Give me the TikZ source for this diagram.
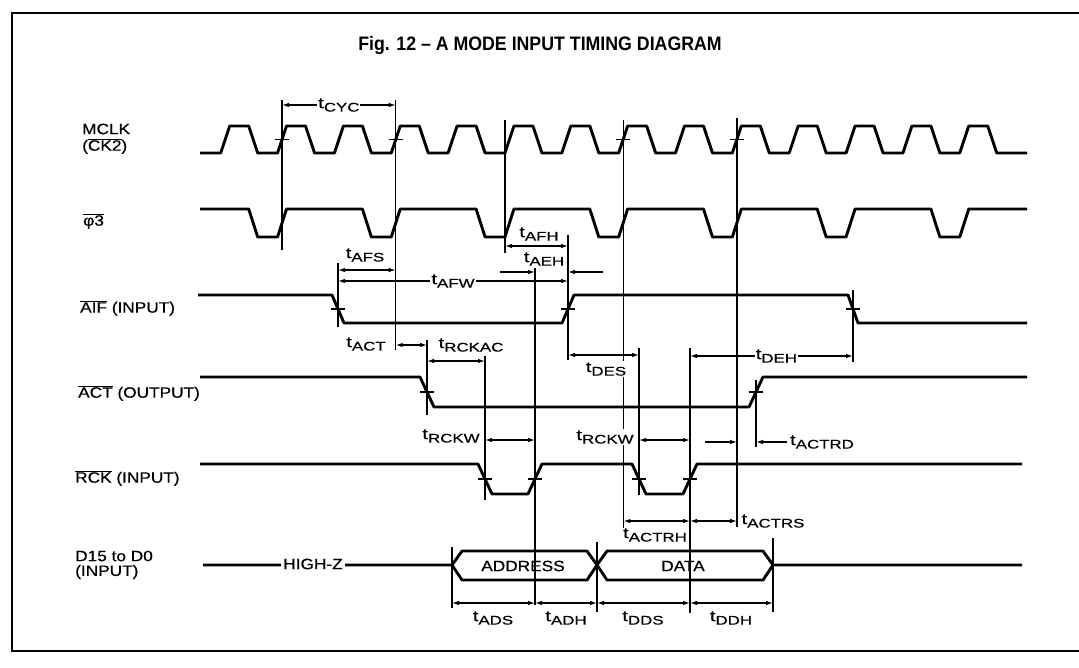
\documentclass[tikz,border=0pt]{standalone}
\usepackage{fontspec}
\setmainfont{Liberation Sans}
\newfontfamily\sigfont[FakeStretch=1.15,FakeBold=0.6]{Liberation Sans}
\newfontfamily\timefont[FakeStretch=1.35,FakeBold=0.6]{Liberation Sans}
\newfontfamily\titlefont[FakeStretch=0.91]{Liberation Sans Bold}
\usetikzlibrary{calc}
\usetikzlibrary{arrows.meta}
\tikzstyle{wave} = [line width=2.9pt, line join=round]
\tikzstyle{refline} = [line width=1.3pt]
\tikzstyle{dim} = [line width=1.2pt, {Latex[length=7pt,width=4.5pt]}-{Latex[length=7pt,width=4.5pt]}]
\tikzstyle{dimto} = [line width=1.2pt, -{Latex[length=7pt,width=4.5pt]}]
\tikzstyle{sig} = [font=\sigfont\fontsize{15}{16}\selectfont, anchor=west, inner sep=0pt]
\tikzstyle{tlab} = [font=\timefont\fontsize{15}{17}\selectfont, fill=white, inner sep=1pt]
\newcommand{\tm}[1]{t\raisebox{-3.5pt}{\fontsize{12.5}{14}\selectfont #1}}
\newcommand{\ovl}[1]{$\overline{\mbox{#1}}$}

\begin{document}
\begin{tikzpicture}[x=1pt,y=-1pt]
\useasboundingbox (0,0) rectangle (1079,667);
\draw[line width=1.8pt] (1079,13) -- (12,13) -- (12,651) -- (1079,651);
\node[font=\titlefont\fontsize{19.5}{22}\selectfont] (title) at (540,45) {Fig. 12 – A MODE INPUT TIMING DIAGRAM};

% signal names
\node[sig] (n_mclk) at (82,129) {MCLK};
\node[sig] (n_ck2) at (82,146) {(\ovl{CK2})};
\node[sig] (n_phi) at (83,221) {\ovl{φ3}};
\node[sig] (n_aif) at (80,308) {\ovl{AIF} (INPUT)};
\node[sig] (n_act) at (78,393) {\ovl{ACT} (OUTPUT)};
\node[sig] (n_rck) at (75,478) {\ovl{RCK} (INPUT)};
\node[sig] (n_d15) at (75,556) {D15 to D0};
\node[sig] (n_dinp) at (75,572) {(INPUT)};

% waveforms
\draw[wave] (200,153) foreach \k in {0,...,13} {
  -- ({220.7+56.85*\k},153) -- ({229.7+56.85*\k},126)
  -- ({248.7+56.85*\k},126) -- ({257.7+56.85*\k},153) } -- (1027,153);
\draw[wave] (200,209) foreach \k in {0,...,6} {
  -- ({248.7+113.7*\k},209) -- ({257.7+113.7*\k},237)
  -- ({277.55+113.7*\k},237) -- ({286.55+113.7*\k},209) } -- (1027,209);
\draw[wave] (198,295) -- (332,295) -- (344,323) -- (562,323) -- (574,295)
  -- (848,295) -- (858,323) -- (1027,323);
\draw[wave] (200,377) -- (420,377) -- (434,407) -- (749,407) -- (763,377) -- (1027,377);
\draw[wave] (200,464) -- (478,464) -- (492,494) -- (528,494) -- (542,464)
  -- (632,464) -- (646,494) -- (683,494) -- (697,464) -- (1022,464);
\draw[wave] (203,565) -- (452,565) -- (462,551) -- (587,551) -- (597,565)
  -- (607,551) -- (763,551) -- (773,565) -- (1022,565);
\draw[wave] (452,565) -- (462,580) -- (587,580) -- (597,565)
  -- (607,580) -- (763,580) -- (773,565);
\node[sig, anchor=center, fill=white, inner sep=2pt] (n_highz) at (313,564) {HIGH-Z};
\node[sig, anchor=center] (n_addr) at (523,566) {ADDRESS};
\node[sig, anchor=center] (n_data) at (683,566) {DATA};

% edges used for timing
\coordinate (mclk_r1) at (282,139.5);
\coordinate (mclk_r3) at (395.7,139.5);
\coordinate (mclk_r7) at (623.4,139.5);
\coordinate (mclk_r9) at (737.1,139.5);
\coordinate (phi_r5) at (505,223);
\coordinate (aif_fall) at (338,309);
\coordinate (aif_rise) at (568,309);
\coordinate (aif_fall2) at (853,309);
\coordinate (act_fall) at (427,392);
\coordinate (act_rise) at (756,392);
\coordinate (rck_fall) at (485,479);
\coordinate (rck_rise) at (535,479);
\coordinate (rck_fall2) at (639,479);
\coordinate (rck_rise2) at (690,479);
\coordinate (bus_start) at (452,565);
\coordinate (bus_cross) at (597,565);
\coordinate (bus_end) at (773,565);

% reference lines
\draw[refline] (mclk_r1 |- 0,100) -- (mclk_r1 |- 0,250);
\draw[refline] (mclk_r3 |- 0,100) -- (mclk_r3 |- 0,350);
\draw[refline] (phi_r5 |- 0,120) -- (phi_r5 |- 0,253);
\draw[refline] (mclk_r7 |- 0,120) -- (mclk_r7 |- 0,528);
\draw[refline] (mclk_r9 |- 0,118) -- (mclk_r9 |- 0,527);
\draw[refline] (aif_rise |- 0,235) -- (aif_rise |- 0,360);
\draw[refline] (aif_fall |- 0,263) -- (aif_fall |- 0,327);
\draw[refline] (aif_fall2 |- 0,290) -- (aif_fall2 |- 0,362);
\draw[refline] (act_fall |- 0,340) -- (act_fall |- 0,415);
\draw[refline] (act_rise |- 0,380) -- (act_rise |- 0,447);
\draw[refline] (rck_fall |- 0,356) -- (rck_fall |- 0,500);
\draw[refline] (rck_rise |- 0,268) -- (rck_rise |- 0,605);
\draw[refline] (rck_fall2 |- 0,348) -- (rck_fall2 |- 0,495);
\draw[refline] (rck_rise2 |- 0,348) -- (rck_rise2 |- 0,613);
\draw[refline] (bus_start |- 0,547) -- (bus_start |- 0,608);
\draw[refline] (bus_cross |- 0,542) -- (bus_cross |- 0,612);
\draw[refline] (bus_end |- 0,538) -- (bus_end |- 0,612);
\foreach \p in {mclk_r1,mclk_r3,mclk_r7,mclk_r9,aif_fall,aif_rise,aif_fall2,
    act_fall,act_rise,rck_fall,rck_rise,rck_fall2,rck_rise2}
  \draw[refline] ($(\p)+(-7,0)$) -- ($(\p)+(7,0)$);

% timing arrows
\draw[dim] (mclk_r1 |- 0,105) -- (mclk_r3 |- 0,105) node[tlab, midway] (l_cyc) {\tm{CYC}};
\draw[dim] (aif_fall |- 0,270) -- (mclk_r3 |- 0,270);
\node[tlab] (l_afs) at (365,255) {\tm{AFS}};
\draw[dim] (aif_fall |- 0,281) -- (aif_rise |- 0,281) node[tlab, midway] (l_afw) {\tm{AFW}};
\draw[dim] (phi_r5 |- 0,246) -- (aif_rise |- 0,246);
\node[tlab] (l_afh) at (539,234) {\tm{AFH}};
\coordinate (aeh_a) at (500,272);
\coordinate (aeh_b) at (603,272);
\draw[dimto] (aeh_a) -- (rck_rise |- aeh_a);
\draw[dimto] (aeh_b) -- (aif_rise |- aeh_b);
\node[tlab] (l_aeh) at (544,259) {\tm{AEH}};
\draw[dim] (mclk_r3 |- 0,345) -- (act_fall |- 0,345);
\node[tlab] (l_act) at (366,344) {\tm{ACT}};
\draw[dim] (act_fall |- 0,361) -- (rck_fall |- 0,361);
\node[tlab] (l_rckac) at (471,345) {\tm{RCKAC}};
\draw[dim] (aif_rise |- 0,355) -- (rck_fall2 |- 0,355);
\node[tlab] (l_des) at (606,369) {\tm{DES}};
\draw[dim] (rck_rise2 |- 0,356) -- (aif_fall2 |- 0,356) node[tlab, pos=0.53] (l_deh) {\tm{DEH}};
\draw[dim] (rck_fall |- 0,440) -- (rck_rise |- 0,440);
\node[tlab] (l_rckw) at (451,436) {\tm{RCKW}};
\draw[dim] (rck_fall2 |- 0,440) -- (rck_rise2 |- 0,440);
\node[tlab] (l_rckw2) at (605,437) {\tm{RCKW}};
\coordinate (actrd_a) at (705,442);
\coordinate (actrd_b) at (787,442);
\draw[dimto] (actrd_a) -- (mclk_r9 |- actrd_a);
\draw[dimto] (actrd_b) -- (act_rise |- actrd_b);
\node[tlab] (l_actrd) at (822,442) {\tm{ACTRD}};
\draw[dim] (mclk_r7 |- 0,521) -- (rck_rise2 |- 0,521);
\node[tlab, fill=none] (l_actrh) at (655,535) {\tm{ACTRH}};
\draw[dim] (rck_rise2 |- 0,521) -- (mclk_r9 |- 0,521);
\node[tlab] (l_actrs) at (773,521) {\tm{ACTRS}};
\draw[dim] (bus_start |- 0,603) -- (rck_rise |- 0,603);
\draw[dim] (rck_rise |- 0,603) -- (bus_cross |- 0,603);
\draw[dim] (bus_cross |- 0,603) -- (rck_rise2 |- 0,603);
\draw[dim] (rck_rise2 |- 0,603) -- (bus_end |- 0,603);
\node[tlab] (l_ads) at (493,618) {\tm{ADS}};
\node[tlab] (l_adh) at (566,618) {\tm{ADH}};
\node[tlab] (l_dds) at (643,618) {\tm{DDS}};
\node[tlab] (l_ddh) at (731,618) {\tm{DDH}};
\end{tikzpicture}
\end{document}
